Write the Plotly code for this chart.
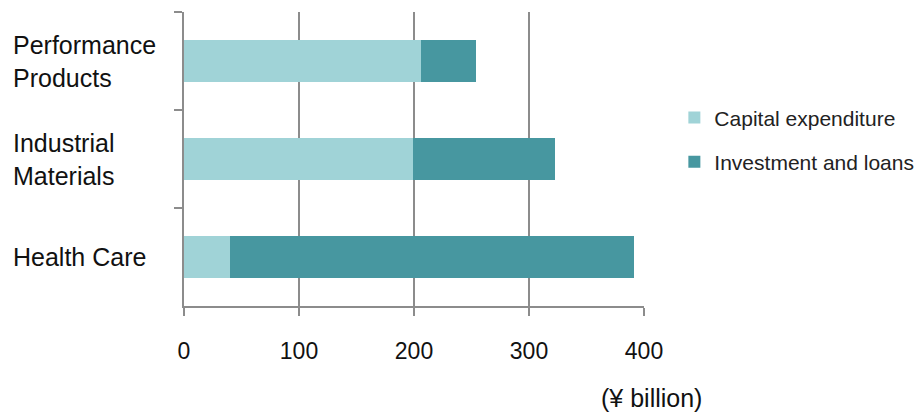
import plotly.graph_objects as go

categories = ["Performance Products", "Industrial Materials", "Health Care"]
label_lines = ["Performance<br>Products", "Industrial<br>Materials", "Health Care"]
capex = [206, 199, 40]
invest = [48, 124, 351]
x_ticks = [0, 100, 200, 300, 400]
series_names = ["Capital expenditure", "Investment and loans"]

C_LIGHT = "#A0D3D7"
C_DARK = "#4797A0"
GRID = "#8C8C8C"
FONT = "Liberation Sans, Arial, sans-serif"

fig = go.Figure()
fig.add_trace(go.Bar(y=categories, x=capex, orientation="h", name=series_names[0],
                     marker=dict(color=C_LIGHT, line=dict(width=0)), width=0.42,
                     legendgroup="a"))
fig.add_trace(go.Bar(y=categories, x=invest, orientation="h", name=series_names[1],
                     marker=dict(color=C_DARK, line=dict(width=0)), width=0.42,
                     legendgroup="b"))

for cat, lab in zip(categories, label_lines):
    fig.add_annotation(x=0, xref="paper", xshift=-173, xanchor="left", y=cat, yref="y",
                       text=lab, showarrow=False, align="left",
                       font=dict(family=FONT, size=25, color="#111"))

fig.add_annotation(x=1.017, xref="paper", y=0, yref="paper", yshift=-92, yanchor="middle",
                   xanchor="center", text="(¥ billion)", showarrow=False,
                   font=dict(family=FONT, size=25, color="#111"))

fig.update_layout(
    barmode="stack",
    width=922, height=413,
    margin=dict(l=184, r=278, t=12, b=107, autoexpand=False),
    plot_bgcolor="white", paper_bgcolor="white",
    font=dict(family=FONT, color="#111"),
    legend=dict(x=1.066, xanchor="left", y=0.565, yanchor="middle",
                font=dict(family=FONT, size=21, color="#222"),
                traceorder="grouped", tracegroupgap=14, itemwidth=30),
    xaxis=dict(range=[0, 400], tickvals=x_ticks, showgrid=True, gridcolor=GRID, gridwidth=1.5,
               zeroline=False, showline=True, linecolor=GRID, linewidth=1.5,
               ticks="outside", ticklen=8, tickcolor=GRID, tickwidth=1.5,
               tickfont=dict(family=FONT, size=23, color="#111"), ticklabelstandoff=16),
    yaxis=dict(categoryorder="array", categoryarray=categories, autorange="reversed",
               showticklabels=False, showline=True, linecolor=GRID, linewidth=1.5,
               ticks="outside", tickson="boundaries", ticklen=8, tickcolor=GRID, tickwidth=1.5,
               showgrid=False, zeroline=False),
)

fig.write_html("out.html")
